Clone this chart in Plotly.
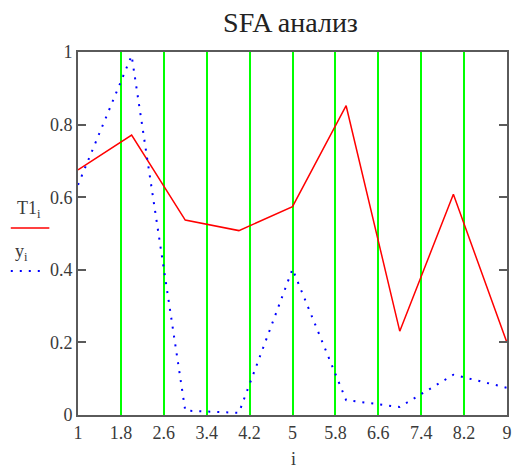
import plotly.graph_objects as go

# Data
i_vals = [1, 2, 3, 4, 5, 6, 7, 8, 9]
T1 = [0.675, 0.771, 0.537, 0.508, 0.574, 0.852, 0.231, 0.608, 0.199]
y_vals = [0.634, 0.99, 0.012, 0.006, 0.402, 0.041, 0.022, 0.111, 0.075]
x_ticks = [1, 1.8, 2.6, 3.4, 4.2, 5, 5.8, 6.6, 7.4, 8.2, 9]
x_ticklabels = ["1", "1.8", "2.6", "3.4", "4.2", "5", "5.8", "6.6", "7.4", "8.2", "9"]
y_ticks = [0, 0.2, 0.4, 0.6, 0.8, 1]
y_ticklabels = ["0", "0.2", "0.4", "0.6", "0.8", "1"]

SERIF = "Liberation Serif, Times New Roman, serif"
TICKCOL = "#3a3a3a"

fig = go.Figure()
fig.add_trace(go.Scatter(x=i_vals, y=T1, mode="lines", name="T1",
                         line=dict(color="#ff0000", width=1.5), showlegend=False))
fig.add_trace(go.Scatter(x=i_vals, y=y_vals, mode="lines", name="y",
                         line=dict(color="#0000ff", width=2, dash="2px,7px"), showlegend=False))

W, H = 519, 470
L, R, T, B = 78, 7, 52, 55
pw = W - L - R
ph = H - T - B

def px_x(p):
    return (p - L) / pw

def px_y(p):
    return (H - B - p) / ph

fig.update_layout(
    width=W, height=H,
    margin=dict(l=L, r=R, t=T, b=B),
    paper_bgcolor="white", plot_bgcolor="white",
    title=dict(text="SFA анализ", x=px_x(293), xanchor="center", xref="paper",
               y=1 - 22 / H, yanchor="middle", yref="container",
               font=dict(family=SERIF, size=28, color="#222222")),
    xaxis=dict(range=[1, 9], tickvals=x_ticks, ticktext=x_ticklabels,
               showgrid=True, gridcolor="#00ff00", gridwidth=2,
               zeroline=False, showline=True, linecolor="#5a5a5a", linewidth=2,
               mirror=True, ticks="", tickfont=dict(family=SERIF, size=18, color=TICKCOL)),
    yaxis=dict(range=[0, 1], tickvals=y_ticks, ticktext=y_ticklabels,
               showgrid=False, zeroline=False, showline=True, linecolor="#5a5a5a",
               linewidth=2, mirror="allticks", ticks="inside", ticklen=8,
               tickwidth=2, tickcolor="#5a5a5a",
               tickfont=dict(family=SERIF, size=18, color=TICKCOL)),
    showlegend=False,
)

# axis title "i"
fig.add_annotation(text="i", x=px_x(296), y=px_y(459), xref="paper", yref="paper",
                   showarrow=False, xanchor="center", yanchor="middle",
                   font=dict(family=SERIF, size=18, color=TICKCOL))

# legend-like labels on left, Mathcad style
fig.add_annotation(text="T1<sub>i</sub>", x=px_x(14), y=px_y(209), xref="paper", yref="paper",
                   showarrow=False, xanchor="left", yanchor="middle",
                   font=dict(family=SERIF, size=18, color=TICKCOL))
fig.add_shape(type="line", xref="paper", yref="paper",
              x0=px_x(10), x1=px_x(49), y0=px_y(228), y1=px_y(228),
              line=dict(color="#ff0000", width=1.5))
fig.add_annotation(text="y<sub>i</sub>", x=px_x(12), y=px_y(253), xref="paper", yref="paper",
                   showarrow=False, xanchor="left", yanchor="middle",
                   font=dict(family=SERIF, size=18, color=TICKCOL))
fig.add_shape(type="line", xref="paper", yref="paper",
              x0=px_x(10), x1=px_x(44), y0=px_y(271), y1=px_y(271),
              line=dict(color="#0000ff", width=2, dash="2px,7px"))

fig.write_html("out.html", config={"displayModeBar": False},
               post_script="document.body.style.margin='0';document.body.style.overflow='hidden';")
